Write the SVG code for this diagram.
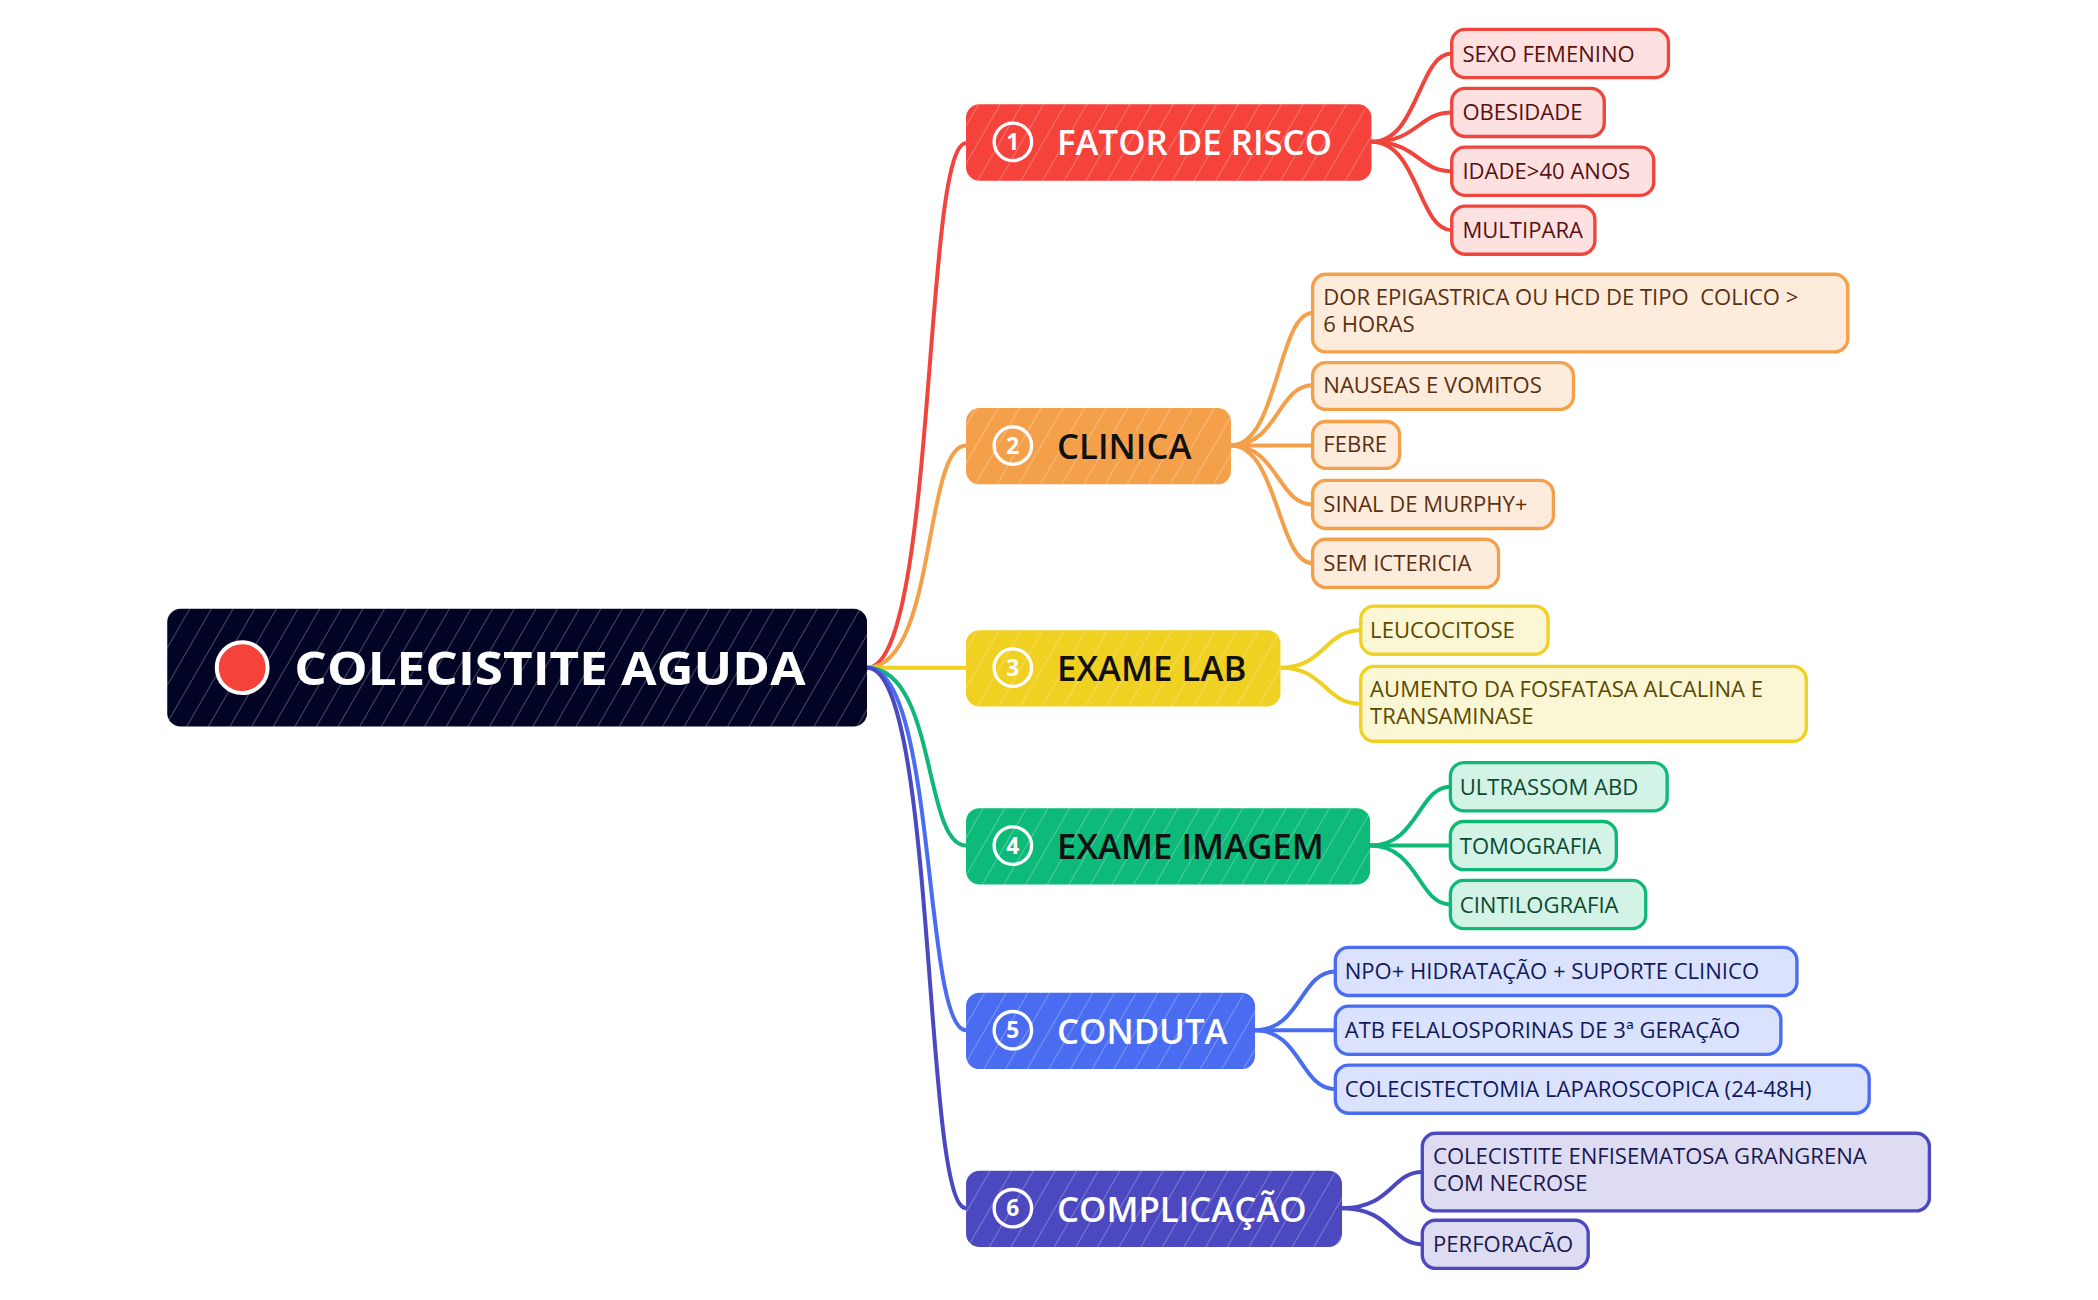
<svg xmlns="http://www.w3.org/2000/svg" width="2098" height="1300" viewBox="0 0 2098 1300">
<defs>
<pattern id="hatch" width="14" height="14" patternUnits="userSpaceOnUse" patternTransform="rotate(30)">
<line x1="0" y1="0" x2="0" y2="14" stroke="#fff" stroke-width="1.2" stroke-opacity="0.35"/>
</pattern>
<style>
text{font-family:"Open Sans","Noto Sans",sans-serif}
.bt{font-size:26px;font-weight:600}
.lt{font-size:16.5px}
.num{font-size:17px;font-weight:700;fill:#fff;text-anchor:middle}
.c{fill:none;stroke-width:3}
.leaf{stroke-width:2.5}
</style>
</defs>
<rect width="2098" height="1300" fill="#fff"/>
<g transform="scale(1.338)">
<g id="connectors">
<path class="c" stroke="#f0453d" d="M648 499 C700 499 690 107 722 107"/>
<path class="c" stroke="#f4a04a" d="M648 499 C700 499 690 333 722 333"/>
<path class="c" stroke="#f0d020" d="M648 499 L722 499"/>
<path class="c" stroke="#10b878" d="M648 499 C700 499 690 632 722 632"/>
<path class="c" stroke="#4a6cf0" d="M648 499 C700 499 690 770 722 770"/>
<path class="c" stroke="#4b48c0" d="M648 499 C700 499 690 903 722 903"/>
<g stroke="#f0453d" class="c" fill="none">
<path d="M1025 106 C1060 106 1060 40 1085 40"/><path d="M1025 106 C1060 106 1060 84 1085 84"/>
<path d="M1025 106 C1060 106 1060 128 1085 128"/><path d="M1025 106 C1060 106 1060 172 1085 172"/>
</g>
<g stroke="#f4a04a" class="c" fill="none">
<path d="M920 333 C955 333 955 234 981 234"/><path d="M920 333 C955 333 955 288 981 288"/>
<path d="M920 333 L981 333"/><path d="M920 333 C955 333 955 377 981 377"/>
<path d="M920 333 C955 333 955 421 981 421"/>
</g>
<g stroke="#f0d020" class="c" fill="none">
<path d="M957 499 C990 499 990 471 1017 471"/><path d="M957 499 C990 499 990 526 1017 526"/>
</g>
<g stroke="#10b878" class="c" fill="none">
<path d="M1024 632 C1060 632 1060 588 1084 588"/><path d="M1024 632 L1084 632"/>
<path d="M1024 632 C1060 632 1060 676 1084 676"/>
</g>
<g stroke="#4a6cf0" class="c" fill="none">
<path d="M938 770 C972 770 972 726 998 726"/><path d="M938 770 L998 770"/>
<path d="M938 770 C972 770 972 814 998 814"/>
</g>
<g stroke="#4b48c0" class="c" fill="none">
<path d="M1003 903 C1040 903 1040 876 1063 876"/><path d="M1003 903 C1040 903 1040 930 1063 930"/>
</g>
</g>
<g id="root">
<rect x="125" y="455" width="523" height="88" rx="10" fill="#020426"/>
<rect x="125" y="455" width="523" height="88" rx="10" fill="url(#hatch)"/>
<circle cx="181" cy="499" r="19" fill="#f5423b" stroke="#fff" stroke-width="3"/>
<text x="220" y="512" font-size="35" font-weight="700" fill="#fff" textLength="382" lengthAdjust="spacingAndGlyphs">COLECISTITE AGUDA</text>
</g>
<g id="b1"><rect x="722" y="78" width="303" height="57" rx="10" fill="#f5423b"/><rect x="722" y="78" width="303" height="57" rx="10" fill="url(#hatch)"/>
<circle cx="757" cy="106" r="14" fill="none" stroke="#fff" stroke-width="2.5"/><text class="num" x="757" y="112">1</text>
<text class="bt" x="790" y="116" fill="#fff">FATOR DE RISCO</text></g>
<g id="b2"><rect x="722" y="305" width="198" height="57" rx="10" fill="#f4a04a"/><rect x="722" y="305" width="198" height="57" rx="10" fill="url(#hatch)"/>
<circle cx="757" cy="333" r="14" fill="none" stroke="#fff" stroke-width="2.5"/><text class="num" x="757" y="339">2</text>
<text class="bt" x="790" y="343" fill="#111">CLINICA</text></g>
<g id="b3"><rect x="722" y="471" width="235" height="57" rx="10" fill="#f0d020"/><rect x="722" y="471" width="235" height="57" rx="10" fill="url(#hatch)"/>
<circle cx="757" cy="499" r="14" fill="none" stroke="#fff" stroke-width="2.5"/><text class="num" x="757" y="505">3</text>
<text class="bt" x="790" y="509" fill="#111">EXAME LAB</text></g>
<g id="b4"><rect x="722" y="604" width="302" height="57" rx="10" fill="#0dba7a"/><rect x="722" y="604" width="302" height="57" rx="10" fill="url(#hatch)"/>
<circle cx="757" cy="632" r="14" fill="none" stroke="#fff" stroke-width="2.5"/><text class="num" x="757" y="638">4</text>
<text class="bt" x="790" y="642" fill="#111">EXAME IMAGEM</text></g>
<g id="b5"><rect x="722" y="742" width="216" height="57" rx="10" fill="#4a6cf0"/><rect x="722" y="742" width="216" height="57" rx="10" fill="url(#hatch)"/>
<circle cx="757" cy="770" r="14" fill="none" stroke="#fff" stroke-width="2.5"/><text class="num" x="757" y="776">5</text>
<text class="bt" x="790" y="780" fill="#fff">CONDUTA</text></g>
<g id="b6"><rect x="722" y="875" width="281" height="57" rx="10" fill="#4b48c0"/><rect x="722" y="875" width="281" height="57" rx="10" fill="url(#hatch)"/>
<circle cx="757" cy="903" r="14" fill="none" stroke="#fff" stroke-width="2.5"/><text class="num" x="757" y="909">6</text>
<text class="bt" x="790" y="913" fill="#fff">COMPLICAÇÃO</text></g>

<g fill="#fde0e0" stroke="#f0453d" class="leaf">
<g id="l1a"><rect x="1085" y="22" width="162" height="36" rx="10"/></g>
<g id="l1b"><rect x="1085" y="66" width="114" height="36" rx="10"/></g>
<g id="l1c"><rect x="1085" y="110" width="151" height="36" rx="10"/></g>
<g id="l1d"><rect x="1085" y="154" width="107" height="36" rx="10"/></g>
</g>
<g fill="#5a1010">
<text class="lt" x="1093" y="46">SEXO FEMENINO</text><text class="lt" x="1093" y="90">OBESIDADE</text>
<text class="lt" x="1093" y="134">IDADE&gt;40 ANOS</text><text class="lt" x="1093" y="178">MULTIPARA</text>
</g>
<g fill="#fdecdc" stroke="#f4a04a" class="leaf">
<g id="l2a"><rect x="981" y="205" width="400" height="58" rx="10"/></g>
<g id="l2b"><rect x="981" y="271" width="195" height="35" rx="10"/></g>
<g id="l2c"><rect x="981" y="315" width="65" height="35" rx="10"/></g>
<g id="l2d"><rect x="981" y="359" width="180" height="36" rx="10"/></g>
<g id="l2e"><rect x="981" y="403" width="139" height="36" rx="10"/></g>
</g>
<g fill="#5a3010">
<text class="lt" x="989" y="228" xml:space="preserve">DOR EPIGASTRICA OU HCD DE TIPO  COLICO &gt;</text><text class="lt" x="989" y="248">6 HORAS</text>
<text class="lt" x="989" y="294">NAUSEAS E VOMITOS</text><text class="lt" x="989" y="338">FEBRE</text>
<text class="lt" x="989" y="383">SINAL DE MURPHY+</text><text class="lt" x="989" y="427">SEM ICTERICIA</text>
</g>
<g fill="#fbf6d4" stroke="#f0d020" class="leaf">
<g id="l3a"><rect x="1017" y="453" width="140" height="36" rx="10"/></g>
<g id="l3b"><rect x="1017" y="498" width="333" height="56" rx="10"/></g>
</g>
<g fill="#5a4a00">
<text class="lt" x="1024" y="477">LEUCOCITOSE</text>
<text class="lt" x="1024" y="521">AUMENTO DA FOSFATASA ALCALINA E</text><text class="lt" x="1024" y="541">TRANSAMINASE</text>
</g>
<g fill="#d2f3e6" stroke="#10b878" class="leaf">
<g id="l4a"><rect x="1084" y="570" width="162" height="36" rx="10"/></g>
<g id="l4b"><rect x="1084" y="614" width="124" height="36" rx="10"/></g>
<g id="l4c"><rect x="1084" y="658" width="146" height="36" rx="10"/></g>
</g>
<g fill="#0b4a30">
<text class="lt" x="1091" y="594">ULTRASSOM ABD</text><text class="lt" x="1091" y="638">TOMOGRAFIA</text><text class="lt" x="1091" y="682">CINTILOGRAFIA</text>
</g>
<g fill="#dbe2fd" stroke="#4a6cf0" class="leaf">
<g id="l5a"><rect x="998" y="708" width="345" height="36" rx="10"/></g>
<g id="l5b"><rect x="998" y="752" width="333" height="36" rx="10"/></g>
<g id="l5c"><rect x="998" y="796" width="399" height="36" rx="10"/></g>
</g>
<g fill="#101a60">
<text class="lt" x="1005" y="732">NPO+ HIDRATAÇÃO + SUPORTE CLINICO</text>
<text class="lt" x="1005" y="776">ATB FELALOSPORINAS DE 3ª GERAÇÃO</text>
<text class="lt" x="1005" y="820">COLECISTECTOMIA LAPAROSCOPICA (24-48H)</text>
</g>
<g fill="#dddcf3" stroke="#4b48c0" class="leaf">
<g id="l6a"><rect x="1063" y="847" width="379" height="58" rx="10"/></g>
<g id="l6b"><rect x="1063" y="912" width="124" height="36" rx="10"/></g>
</g>
<g fill="#1a1850">
<text class="lt" x="1071" y="870">COLECISTITE ENFISEMATOSA GRANGRENA</text><text class="lt" x="1071" y="890">COM NECROSE</text>
<text class="lt" x="1071" y="936">PERFORACÃO</text>
</g>
</g>
</svg>
